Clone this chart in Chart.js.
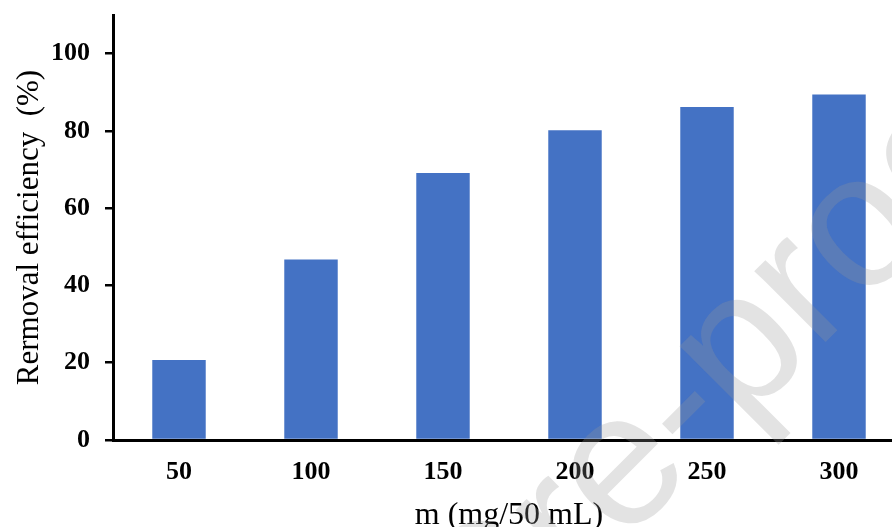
<!DOCTYPE html>
<html>
<head>
<meta charset="utf-8">
<script src="https://cdn.jsdelivr.net/npm/chart.js@4.4.1/dist/chart.umd.min.js"></script>
<style>
  body { margin: 0; overflow: hidden; background: #fff; }
  #wrap { position: absolute; left: 0; top: 0; width: 910px; height: 535px; }
</style>
</head>
<body>
<div id="wrap"><canvas id="myChart"></canvas></div>
<script>
// data
const doses = ['50', '100', '150', '200', '250', '300'];
const removal = [20.7, 46.7, 69.1, 80.2, 86.2, 89.4];
const yTickValues = [0, 20, 40, 60, 80, 100];

// faint "Journal Pre-proof" stamp across the plot
const watermark = {
    id: 'watermark',
    afterDatasetsDraw(chart) {
        const ctx = chart.ctx;
        const size = 190;
        ctx.save();
        ctx.font = size + 'px "Liberation Sans", Arial, sans-serif';
        const before = ctx.measureText('Journal Pre').width;
        const dash = ctx.measureText('-').width;
        ctx.translate(683, 412);
        ctx.rotate(-Math.PI / 4);
        ctx.fillStyle = 'rgba(150,150,150,0.27)';
        ctx.textBaseline = 'alphabetic';
        ctx.fillText('Journal Pre-proof', -(before + dash / 2), size * 0.27);
        ctx.restore();
    }
};

function myLoadFunction() {
    const ctx = document.getElementById('myChart').getContext('2d');
    const serif = '"Liberation Serif", "Times New Roman", serif';
    const tickFont = { family: serif, size: 26, weight: 'bold' };

    new Chart(ctx, {
        type: 'bar',
        data: {
            labels: doses,
            datasets: [{
                label: 'Removal efficiency',
                data: removal,
                backgroundColor: '#4472C4',
                barPercentage: 0.405,
                categoryPercentage: 1.0
            }]
        },
        options: {
            responsive: true,
            maintainAspectRatio: false,
            animation: false,
            layout: { padding: { top: 15, right: 5, left: 0, bottom: 0 } },
            plugins: {
                legend: { display: false },
                tooltip: { enabled: false }
            },
            scales: {
                x: {
                    grid: { display: true, drawOnChartArea: false, drawTicks: false },
                    border: { color: '#000', width: 3 },
                    ticks: { color: '#000', font: tickFont, padding: 17 },
                    title: {
                        display: true,
                        text: 'm (mg/50 mL)',
                        color: '#000',
                        font: { family: serif, size: 32 },
                        padding: { top: 0, bottom: 0 }
                    },
                    afterFit: s => { s.height = 95; }
                },
                y: {
                    min: 0,
                    max: 110,
                    afterBuildTicks: s => { s.ticks = yTickValues.map(v => ({ value: v })); },
                    grid: { drawOnChartArea: false, drawTicks: true, tickLength: 8, color: '#000', lineWidth: 2.5 },
                    border: { color: '#000', width: 3 },
                    ticks: { color: '#000', font: tickFont, padding: 15 },
                    title: {
                        display: true,
                        text: 'Rermoval efficiency  (%)',
                        color: '#000',
                        font: { family: serif, size: 31 },
                        padding: { top: 11, bottom: 0 }
                    },
                    afterFit: s => {
                        s.width = 113;
                        s.paddingTop = 0;
                        s.paddingBottom = 0;
                    }
                }
            }
        },
        plugins: [watermark]
    });
}

document.addEventListener('DOMContentLoaded', myLoadFunction);
</script>
</body>
</html>
